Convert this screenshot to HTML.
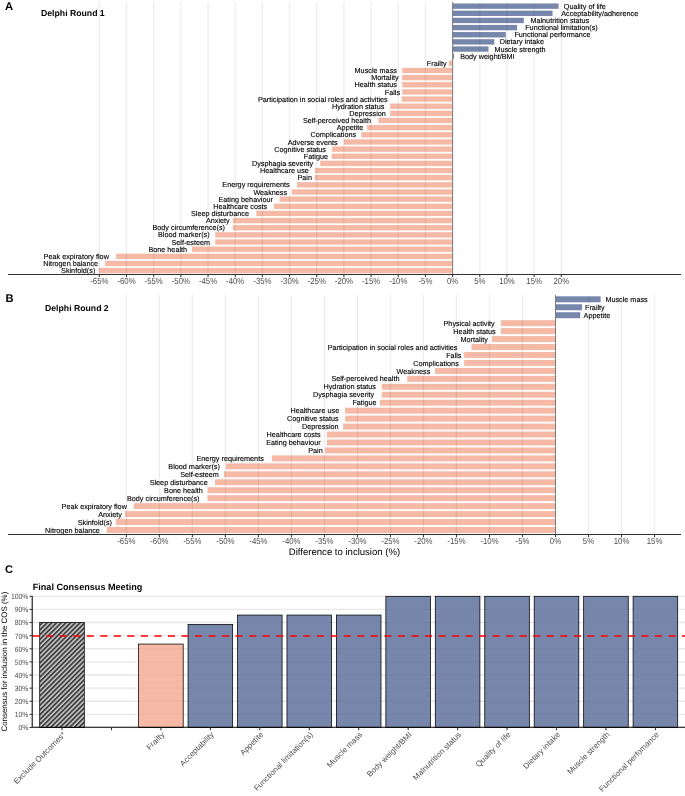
<!DOCTYPE html>
<html><head><meta charset="utf-8"><style>html,body{margin:0;padding:0;background:#fff;width:685px;height:796px;overflow:hidden}svg{display:block;will-change:transform}</style></head>
<body>
<svg width="685" height="796" viewBox="0 0 685 796">
<rect width="685" height="796" fill="#fff"/>
<style>text{font-family:"Liberation Sans",sans-serif;text-rendering:geometricPrecision}.lab{font-size:7.25px;fill:#000;stroke:#000;stroke-width:0.12px}.tick{font-size:8.8px;fill:#4d4d4d}.ttl{font-weight:bold;fill:#000}</style>
<rect x="452.6" y="3.47" width="106" height="5.37" fill="#7787AB"/>
<rect x="452.6" y="10.61" width="99.9" height="5.37" fill="#7787AB"/>
<rect x="452.6" y="17.76" width="71.2" height="5.37" fill="#7787AB"/>
<rect x="452.6" y="24.91" width="64.5" height="5.37" fill="#7787AB"/>
<rect x="452.6" y="32.06" width="53.2" height="5.37" fill="#7787AB"/>
<rect x="452.6" y="39.2" width="41.7" height="5.37" fill="#7787AB"/>
<rect x="452.6" y="46.35" width="35.9" height="5.37" fill="#7787AB"/>
<rect x="452.6" y="53.5" width="1.3" height="5.37" fill="#7787AB"/>
<rect x="448.9" y="60.65" width="3.7" height="5.37" fill="#F6B9A6"/>
<rect x="402.2" y="67.8" width="50.4" height="5.37" fill="#F6B9A6"/>
<rect x="402.2" y="74.94" width="50.4" height="5.37" fill="#F6B9A6"/>
<rect x="402.2" y="82.09" width="50.4" height="5.37" fill="#F6B9A6"/>
<rect x="402.2" y="89.24" width="50.4" height="5.37" fill="#F6B9A6"/>
<rect x="401.7" y="96.39" width="50.9" height="5.37" fill="#F6B9A6"/>
<rect x="390.2" y="103.54" width="62.4" height="5.37" fill="#F6B9A6"/>
<rect x="390.2" y="110.69" width="62.4" height="5.37" fill="#F6B9A6"/>
<rect x="378.3" y="117.83" width="74.3" height="5.37" fill="#F6B9A6"/>
<rect x="367.1" y="124.98" width="85.5" height="5.37" fill="#F6B9A6"/>
<rect x="361.3" y="132.13" width="91.3" height="5.37" fill="#F6B9A6"/>
<rect x="343.8" y="139.28" width="108.8" height="5.37" fill="#F6B9A6"/>
<rect x="332.1" y="146.42" width="120.5" height="5.37" fill="#F6B9A6"/>
<rect x="331.6" y="153.57" width="121" height="5.37" fill="#F6B9A6"/>
<rect x="320.2" y="160.72" width="132.4" height="5.37" fill="#F6B9A6"/>
<rect x="315" y="167.87" width="137.6" height="5.37" fill="#F6B9A6"/>
<rect x="314.6" y="175.02" width="138" height="5.37" fill="#F6B9A6"/>
<rect x="297.1" y="182.16" width="155.5" height="5.37" fill="#F6B9A6"/>
<rect x="291.8" y="189.31" width="160.8" height="5.37" fill="#F6B9A6"/>
<rect x="279.6" y="196.46" width="173" height="5.37" fill="#F6B9A6"/>
<rect x="273.8" y="203.61" width="178.8" height="5.37" fill="#F6B9A6"/>
<rect x="256.3" y="210.76" width="196.3" height="5.37" fill="#F6B9A6"/>
<rect x="232.9" y="217.91" width="219.7" height="5.37" fill="#F6B9A6"/>
<rect x="232.9" y="225.05" width="219.7" height="5.37" fill="#F6B9A6"/>
<rect x="215.3" y="232.2" width="237.3" height="5.37" fill="#F6B9A6"/>
<rect x="215.2" y="239.35" width="237.4" height="5.37" fill="#F6B9A6"/>
<rect x="192" y="246.5" width="260.6" height="5.37" fill="#F6B9A6"/>
<rect x="116.1" y="253.64" width="336.5" height="5.37" fill="#F6B9A6"/>
<rect x="105.1" y="260.79" width="347.5" height="5.37" fill="#F6B9A6"/>
<rect x="98.8" y="267.94" width="353.8" height="5.37" fill="#F6B9A6"/>
<line x1="99.33" y1="2" x2="99.33" y2="274.4" stroke="#000" stroke-opacity="0.07" stroke-width="1.35"/>
<line x1="126.5" y1="2" x2="126.5" y2="274.4" stroke="#000" stroke-opacity="0.07" stroke-width="1.35"/>
<line x1="153.68" y1="2" x2="153.68" y2="274.4" stroke="#000" stroke-opacity="0.07" stroke-width="1.35"/>
<line x1="180.85" y1="2" x2="180.85" y2="274.4" stroke="#000" stroke-opacity="0.07" stroke-width="1.35"/>
<line x1="208.03" y1="2" x2="208.03" y2="274.4" stroke="#000" stroke-opacity="0.07" stroke-width="1.35"/>
<line x1="235.2" y1="2" x2="235.2" y2="274.4" stroke="#000" stroke-opacity="0.07" stroke-width="1.35"/>
<line x1="262.38" y1="2" x2="262.38" y2="274.4" stroke="#000" stroke-opacity="0.07" stroke-width="1.35"/>
<line x1="289.55" y1="2" x2="289.55" y2="274.4" stroke="#000" stroke-opacity="0.07" stroke-width="1.35"/>
<line x1="316.73" y1="2" x2="316.73" y2="274.4" stroke="#000" stroke-opacity="0.07" stroke-width="1.35"/>
<line x1="343.9" y1="2" x2="343.9" y2="274.4" stroke="#000" stroke-opacity="0.07" stroke-width="1.35"/>
<line x1="371.08" y1="2" x2="371.08" y2="274.4" stroke="#000" stroke-opacity="0.07" stroke-width="1.35"/>
<line x1="398.25" y1="2" x2="398.25" y2="274.4" stroke="#000" stroke-opacity="0.07" stroke-width="1.35"/>
<line x1="425.43" y1="2" x2="425.43" y2="274.4" stroke="#000" stroke-opacity="0.07" stroke-width="1.35"/>
<line x1="452.6" y1="2" x2="452.6" y2="274.4" stroke="#000" stroke-opacity="0.07" stroke-width="1.35"/>
<line x1="479.78" y1="2" x2="479.78" y2="274.4" stroke="#000" stroke-opacity="0.07" stroke-width="1.35"/>
<line x1="506.95" y1="2" x2="506.95" y2="274.4" stroke="#000" stroke-opacity="0.07" stroke-width="1.35"/>
<line x1="534.12" y1="2" x2="534.12" y2="274.4" stroke="#000" stroke-opacity="0.07" stroke-width="1.35"/>
<line x1="561.3" y1="2" x2="561.3" y2="274.4" stroke="#000" stroke-opacity="0.07" stroke-width="1.35"/>
<line x1="452.6" y1="2" x2="452.6" y2="274.4" stroke="#6e6e6e" stroke-width="0.85"/>
<text x="563.8" y="8.75" text-anchor="start" class="lab">Quality of life</text>
<text x="561.2" y="15.9" text-anchor="start" class="lab">Acceptability/adherence</text>
<text x="530.4" y="23.05" text-anchor="start" class="lab">Malnutrition status</text>
<text x="525.2" y="30.19" text-anchor="start" class="lab">Functional limitation(s)</text>
<text x="514.4" y="37.34" text-anchor="start" class="lab">Functional performance</text>
<text x="499.7" y="44.49" text-anchor="start" class="lab">Dietary intake</text>
<text x="494.4" y="51.64" text-anchor="start" class="lab">Muscle strength</text>
<text x="460.2" y="58.79" text-anchor="start" class="lab">Body weight/BMI</text>
<text x="446.6" y="65.93" text-anchor="end" class="lab">Frailty</text>
<text x="396.9" y="73.08" text-anchor="end" class="lab">Muscle mass</text>
<text x="398.7" y="80.23" text-anchor="end" class="lab">Mortality</text>
<text x="396.9" y="87.38" text-anchor="end" class="lab">Health status</text>
<text x="400.1" y="94.53" text-anchor="end" class="lab">Falls</text>
<text x="387.7" y="101.67" text-anchor="end" class="lab">Participation in social roles and activities</text>
<text x="384.3" y="108.82" text-anchor="end" class="lab">Hydration status</text>
<text x="385.9" y="115.97" text-anchor="end" class="lab">Depression</text>
<text x="371" y="123.12" text-anchor="end" class="lab">Self-perceived health</text>
<text x="363.4" y="130.27" text-anchor="end" class="lab">Appetite</text>
<text x="356.1" y="137.41" text-anchor="end" class="lab">Complications</text>
<text x="337.7" y="144.56" text-anchor="end" class="lab">Adverse events</text>
<text x="325.9" y="151.71" text-anchor="end" class="lab">Cognitive status</text>
<text x="328" y="158.86" text-anchor="end" class="lab">Fatigue</text>
<text x="313.2" y="166.01" text-anchor="end" class="lab">Dysphagia severity</text>
<text x="308.8" y="173.15" text-anchor="end" class="lab">Healthcare use</text>
<text x="312" y="180.3" text-anchor="end" class="lab">Pain</text>
<text x="289.6" y="187.45" text-anchor="end" class="lab">Energy requirements</text>
<text x="287.1" y="194.6" text-anchor="end" class="lab">Weakness</text>
<text x="272.9" y="201.75" text-anchor="end" class="lab">Eating behaviour</text>
<text x="267.2" y="208.89" text-anchor="end" class="lab">Healthcare costs</text>
<text x="249" y="216.04" text-anchor="end" class="lab">Sleep disturbance</text>
<text x="229.7" y="223.19" text-anchor="end" class="lab">Anxiety</text>
<text x="225" y="230.34" text-anchor="end" class="lab">Body circumference(s)</text>
<text x="209.6" y="237.49" text-anchor="end" class="lab">Blood marker(s)</text>
<text x="210.1" y="244.63" text-anchor="end" class="lab">Self-esteem</text>
<text x="187.1" y="251.78" text-anchor="end" class="lab">Bone health</text>
<text x="108.9" y="258.93" text-anchor="end" class="lab">Peak expiratory flow</text>
<text x="98.1" y="266.08" text-anchor="end" class="lab">Nitrogen balance</text>
<text x="95.3" y="273.23" text-anchor="end" class="lab">Skinfold(s)</text>
<line x1="8" y1="274.4" x2="681" y2="274.4" stroke="#333" stroke-width="1.05"/>
<line x1="99.33" y1="274.4" x2="99.33" y2="277.1" stroke="#333" stroke-width="1.05"/>
<text transform="translate(99.33,284) scale(0.8864,1)" text-anchor="middle" class="tick">-65%</text>
<line x1="126.5" y1="274.4" x2="126.5" y2="277.1" stroke="#333" stroke-width="1.05"/>
<text transform="translate(126.5,284) scale(0.8864,1)" text-anchor="middle" class="tick">-60%</text>
<line x1="153.68" y1="274.4" x2="153.68" y2="277.1" stroke="#333" stroke-width="1.05"/>
<text transform="translate(153.68,284) scale(0.8864,1)" text-anchor="middle" class="tick">-55%</text>
<line x1="180.85" y1="274.4" x2="180.85" y2="277.1" stroke="#333" stroke-width="1.05"/>
<text transform="translate(180.85,284) scale(0.8864,1)" text-anchor="middle" class="tick">-50%</text>
<line x1="208.03" y1="274.4" x2="208.03" y2="277.1" stroke="#333" stroke-width="1.05"/>
<text transform="translate(208.03,284) scale(0.8864,1)" text-anchor="middle" class="tick">-45%</text>
<line x1="235.2" y1="274.4" x2="235.2" y2="277.1" stroke="#333" stroke-width="1.05"/>
<text transform="translate(235.2,284) scale(0.8864,1)" text-anchor="middle" class="tick">-40%</text>
<line x1="262.38" y1="274.4" x2="262.38" y2="277.1" stroke="#333" stroke-width="1.05"/>
<text transform="translate(262.38,284) scale(0.8864,1)" text-anchor="middle" class="tick">-35%</text>
<line x1="289.55" y1="274.4" x2="289.55" y2="277.1" stroke="#333" stroke-width="1.05"/>
<text transform="translate(289.55,284) scale(0.8864,1)" text-anchor="middle" class="tick">-30%</text>
<line x1="316.73" y1="274.4" x2="316.73" y2="277.1" stroke="#333" stroke-width="1.05"/>
<text transform="translate(316.73,284) scale(0.8864,1)" text-anchor="middle" class="tick">-25%</text>
<line x1="343.9" y1="274.4" x2="343.9" y2="277.1" stroke="#333" stroke-width="1.05"/>
<text transform="translate(343.9,284) scale(0.8864,1)" text-anchor="middle" class="tick">-20%</text>
<line x1="371.08" y1="274.4" x2="371.08" y2="277.1" stroke="#333" stroke-width="1.05"/>
<text transform="translate(371.08,284) scale(0.8864,1)" text-anchor="middle" class="tick">-15%</text>
<line x1="398.25" y1="274.4" x2="398.25" y2="277.1" stroke="#333" stroke-width="1.05"/>
<text transform="translate(398.25,284) scale(0.8864,1)" text-anchor="middle" class="tick">-10%</text>
<line x1="425.43" y1="274.4" x2="425.43" y2="277.1" stroke="#333" stroke-width="1.05"/>
<text transform="translate(425.43,284) scale(0.8864,1)" text-anchor="middle" class="tick">-5%</text>
<line x1="452.6" y1="274.4" x2="452.6" y2="277.1" stroke="#333" stroke-width="1.05"/>
<text transform="translate(452.6,284) scale(0.8864,1)" text-anchor="middle" class="tick">0%</text>
<line x1="479.78" y1="274.4" x2="479.78" y2="277.1" stroke="#333" stroke-width="1.05"/>
<text transform="translate(479.78,284) scale(0.8864,1)" text-anchor="middle" class="tick">5%</text>
<line x1="506.95" y1="274.4" x2="506.95" y2="277.1" stroke="#333" stroke-width="1.05"/>
<text transform="translate(506.95,284) scale(0.8864,1)" text-anchor="middle" class="tick">10%</text>
<line x1="534.12" y1="274.4" x2="534.12" y2="277.1" stroke="#333" stroke-width="1.05"/>
<text transform="translate(534.12,284) scale(0.8864,1)" text-anchor="middle" class="tick">15%</text>
<line x1="561.3" y1="274.4" x2="561.3" y2="277.1" stroke="#333" stroke-width="1.05"/>
<text transform="translate(561.3,284) scale(0.8864,1)" text-anchor="middle" class="tick">20%</text>
<text x="5" y="9.8" class="ttl" font-size="11.2">A</text>
<text x="41" y="16.2" class="ttl" font-size="8.7">Delphi Round 1</text>
<rect x="555.5" y="296.31" width="45.1" height="5.97" fill="#7787AB"/>
<rect x="555.5" y="304.27" width="26.5" height="5.97" fill="#7787AB"/>
<rect x="555.5" y="312.23" width="24.7" height="5.97" fill="#7787AB"/>
<rect x="500.8" y="320.18" width="54.7" height="5.97" fill="#F6B9A6"/>
<rect x="500.8" y="328.13" width="54.7" height="5.97" fill="#F6B9A6"/>
<rect x="491.9" y="336.09" width="63.6" height="5.97" fill="#F6B9A6"/>
<rect x="471.5" y="344.05" width="84" height="5.97" fill="#F6B9A6"/>
<rect x="464.2" y="352" width="91.3" height="5.97" fill="#F6B9A6"/>
<rect x="464.2" y="359.95" width="91.3" height="5.97" fill="#F6B9A6"/>
<rect x="435" y="367.91" width="120.5" height="5.97" fill="#F6B9A6"/>
<rect x="407.2" y="375.87" width="148.3" height="5.97" fill="#F6B9A6"/>
<rect x="381.7" y="383.82" width="173.8" height="5.97" fill="#F6B9A6"/>
<rect x="381.7" y="391.77" width="173.8" height="5.97" fill="#F6B9A6"/>
<rect x="380" y="399.73" width="175.5" height="5.97" fill="#F6B9A6"/>
<rect x="345.1" y="407.69" width="210.4" height="5.97" fill="#F6B9A6"/>
<rect x="345.1" y="415.64" width="210.4" height="5.97" fill="#F6B9A6"/>
<rect x="343.2" y="423.6" width="212.3" height="5.97" fill="#F6B9A6"/>
<rect x="326.9" y="431.55" width="228.6" height="5.97" fill="#F6B9A6"/>
<rect x="326.9" y="439.5" width="228.6" height="5.97" fill="#F6B9A6"/>
<rect x="325.1" y="447.46" width="230.4" height="5.97" fill="#F6B9A6"/>
<rect x="271.8" y="455.41" width="283.7" height="5.97" fill="#F6B9A6"/>
<rect x="225.9" y="463.37" width="329.6" height="5.97" fill="#F6B9A6"/>
<rect x="224.1" y="471.32" width="331.4" height="5.97" fill="#F6B9A6"/>
<rect x="215" y="479.28" width="340.5" height="5.97" fill="#F6B9A6"/>
<rect x="207.5" y="487.24" width="348" height="5.97" fill="#F6B9A6"/>
<rect x="207.5" y="495.19" width="348" height="5.97" fill="#F6B9A6"/>
<rect x="133.8" y="503.14" width="421.7" height="5.97" fill="#F6B9A6"/>
<rect x="125.1" y="511.1" width="430.4" height="5.97" fill="#F6B9A6"/>
<rect x="115.9" y="519.05" width="439.6" height="5.97" fill="#F6B9A6"/>
<rect x="106.8" y="527.01" width="448.7" height="5.97" fill="#F6B9A6"/>
<line x1="126.34" y1="295" x2="126.34" y2="534.5" stroke="#000" stroke-opacity="0.07" stroke-width="1.35"/>
<line x1="159.35" y1="295" x2="159.35" y2="534.5" stroke="#000" stroke-opacity="0.07" stroke-width="1.35"/>
<line x1="192.36" y1="295" x2="192.36" y2="534.5" stroke="#000" stroke-opacity="0.07" stroke-width="1.35"/>
<line x1="225.38" y1="295" x2="225.38" y2="534.5" stroke="#000" stroke-opacity="0.07" stroke-width="1.35"/>
<line x1="258.39" y1="295" x2="258.39" y2="534.5" stroke="#000" stroke-opacity="0.07" stroke-width="1.35"/>
<line x1="291.4" y1="295" x2="291.4" y2="534.5" stroke="#000" stroke-opacity="0.07" stroke-width="1.35"/>
<line x1="324.41" y1="295" x2="324.41" y2="534.5" stroke="#000" stroke-opacity="0.07" stroke-width="1.35"/>
<line x1="357.43" y1="295" x2="357.43" y2="534.5" stroke="#000" stroke-opacity="0.07" stroke-width="1.35"/>
<line x1="390.44" y1="295" x2="390.44" y2="534.5" stroke="#000" stroke-opacity="0.07" stroke-width="1.35"/>
<line x1="423.45" y1="295" x2="423.45" y2="534.5" stroke="#000" stroke-opacity="0.07" stroke-width="1.35"/>
<line x1="456.46" y1="295" x2="456.46" y2="534.5" stroke="#000" stroke-opacity="0.07" stroke-width="1.35"/>
<line x1="489.48" y1="295" x2="489.48" y2="534.5" stroke="#000" stroke-opacity="0.07" stroke-width="1.35"/>
<line x1="522.49" y1="295" x2="522.49" y2="534.5" stroke="#000" stroke-opacity="0.07" stroke-width="1.35"/>
<line x1="555.5" y1="295" x2="555.5" y2="534.5" stroke="#000" stroke-opacity="0.07" stroke-width="1.35"/>
<line x1="588.51" y1="295" x2="588.51" y2="534.5" stroke="#000" stroke-opacity="0.07" stroke-width="1.35"/>
<line x1="621.52" y1="295" x2="621.52" y2="534.5" stroke="#000" stroke-opacity="0.07" stroke-width="1.35"/>
<line x1="654.54" y1="295" x2="654.54" y2="534.5" stroke="#000" stroke-opacity="0.07" stroke-width="1.35"/>
<line x1="555.5" y1="295" x2="555.5" y2="534.5" stroke="#6e6e6e" stroke-width="0.85"/>
<text x="605.4" y="301.9" text-anchor="start" class="lab">Muscle mass</text>
<text x="585" y="309.86" text-anchor="start" class="lab">Frailty</text>
<text x="583.6" y="317.81" text-anchor="start" class="lab">Appetite</text>
<text x="494.7" y="325.77" text-anchor="end" class="lab">Physical activity</text>
<text x="495.7" y="333.72" text-anchor="end" class="lab">Health status</text>
<text x="487.8" y="341.68" text-anchor="end" class="lab">Mortality</text>
<text x="457.5" y="349.63" text-anchor="end" class="lab">Participation in social roles and activities</text>
<text x="461.5" y="357.59" text-anchor="end" class="lab">Falls</text>
<text x="458.8" y="365.54" text-anchor="end" class="lab">Complications</text>
<text x="430.3" y="373.5" text-anchor="end" class="lab">Weakness</text>
<text x="399.5" y="381.45" text-anchor="end" class="lab">Self-perceived health</text>
<text x="375.9" y="389.41" text-anchor="end" class="lab">Hydration status</text>
<text x="374.2" y="397.36" text-anchor="end" class="lab">Dysphagia severity</text>
<text x="376.6" y="405.32" text-anchor="end" class="lab">Fatigue</text>
<text x="339.2" y="413.27" text-anchor="end" class="lab">Healthcare use</text>
<text x="338.7" y="421.23" text-anchor="end" class="lab">Cognitive status</text>
<text x="338.6" y="429.18" text-anchor="end" class="lab">Depression</text>
<text x="320.6" y="437.14" text-anchor="end" class="lab">Healthcare costs</text>
<text x="320.6" y="445.09" text-anchor="end" class="lab">Eating behaviour</text>
<text x="322.7" y="453.05" text-anchor="end" class="lab">Pain</text>
<text x="263.8" y="461" text-anchor="end" class="lab">Energy requirements</text>
<text x="219.9" y="468.96" text-anchor="end" class="lab">Blood marker(s)</text>
<text x="218.9" y="476.91" text-anchor="end" class="lab">Self-esteem</text>
<text x="207.7" y="484.87" text-anchor="end" class="lab">Sleep disturbance</text>
<text x="202.8" y="492.82" text-anchor="end" class="lab">Bone health</text>
<text x="199.5" y="500.78" text-anchor="end" class="lab">Body circumference(s)</text>
<text x="126.9" y="508.73" text-anchor="end" class="lab">Peak expiratory flow</text>
<text x="122" y="516.69" text-anchor="end" class="lab">Anxiety</text>
<text x="112" y="524.64" text-anchor="end" class="lab">Skinfold(s)</text>
<text x="99.9" y="532.6" text-anchor="end" class="lab">Nitrogen balance</text>
<line x1="8" y1="534.5" x2="681" y2="534.5" stroke="#333" stroke-width="1.05"/>
<line x1="126.34" y1="534.5" x2="126.34" y2="537.2" stroke="#333" stroke-width="1.05"/>
<text transform="translate(126.34,544.4) scale(0.8864,1)" text-anchor="middle" class="tick">-65%</text>
<line x1="159.35" y1="534.5" x2="159.35" y2="537.2" stroke="#333" stroke-width="1.05"/>
<text transform="translate(159.35,544.4) scale(0.8864,1)" text-anchor="middle" class="tick">-60%</text>
<line x1="192.36" y1="534.5" x2="192.36" y2="537.2" stroke="#333" stroke-width="1.05"/>
<text transform="translate(192.36,544.4) scale(0.8864,1)" text-anchor="middle" class="tick">-55%</text>
<line x1="225.38" y1="534.5" x2="225.38" y2="537.2" stroke="#333" stroke-width="1.05"/>
<text transform="translate(225.38,544.4) scale(0.8864,1)" text-anchor="middle" class="tick">-50%</text>
<line x1="258.39" y1="534.5" x2="258.39" y2="537.2" stroke="#333" stroke-width="1.05"/>
<text transform="translate(258.39,544.4) scale(0.8864,1)" text-anchor="middle" class="tick">-45%</text>
<line x1="291.4" y1="534.5" x2="291.4" y2="537.2" stroke="#333" stroke-width="1.05"/>
<text transform="translate(291.4,544.4) scale(0.8864,1)" text-anchor="middle" class="tick">-40%</text>
<line x1="324.41" y1="534.5" x2="324.41" y2="537.2" stroke="#333" stroke-width="1.05"/>
<text transform="translate(324.41,544.4) scale(0.8864,1)" text-anchor="middle" class="tick">-35%</text>
<line x1="357.43" y1="534.5" x2="357.43" y2="537.2" stroke="#333" stroke-width="1.05"/>
<text transform="translate(357.43,544.4) scale(0.8864,1)" text-anchor="middle" class="tick">-30%</text>
<line x1="390.44" y1="534.5" x2="390.44" y2="537.2" stroke="#333" stroke-width="1.05"/>
<text transform="translate(390.44,544.4) scale(0.8864,1)" text-anchor="middle" class="tick">-25%</text>
<line x1="423.45" y1="534.5" x2="423.45" y2="537.2" stroke="#333" stroke-width="1.05"/>
<text transform="translate(423.45,544.4) scale(0.8864,1)" text-anchor="middle" class="tick">-20%</text>
<line x1="456.46" y1="534.5" x2="456.46" y2="537.2" stroke="#333" stroke-width="1.05"/>
<text transform="translate(456.46,544.4) scale(0.8864,1)" text-anchor="middle" class="tick">-15%</text>
<line x1="489.48" y1="534.5" x2="489.48" y2="537.2" stroke="#333" stroke-width="1.05"/>
<text transform="translate(489.48,544.4) scale(0.8864,1)" text-anchor="middle" class="tick">-10%</text>
<line x1="522.49" y1="534.5" x2="522.49" y2="537.2" stroke="#333" stroke-width="1.05"/>
<text transform="translate(522.49,544.4) scale(0.8864,1)" text-anchor="middle" class="tick">-5%</text>
<line x1="555.5" y1="534.5" x2="555.5" y2="537.2" stroke="#333" stroke-width="1.05"/>
<text transform="translate(555.5,544.4) scale(0.8864,1)" text-anchor="middle" class="tick">0%</text>
<line x1="588.51" y1="534.5" x2="588.51" y2="537.2" stroke="#333" stroke-width="1.05"/>
<text transform="translate(588.51,544.4) scale(0.8864,1)" text-anchor="middle" class="tick">5%</text>
<line x1="621.52" y1="534.5" x2="621.52" y2="537.2" stroke="#333" stroke-width="1.05"/>
<text transform="translate(621.52,544.4) scale(0.8864,1)" text-anchor="middle" class="tick">10%</text>
<line x1="654.54" y1="534.5" x2="654.54" y2="537.2" stroke="#333" stroke-width="1.05"/>
<text transform="translate(654.54,544.4) scale(0.8864,1)" text-anchor="middle" class="tick">15%</text>
<text x="5.6" y="302" class="ttl" font-size="11.2">B</text>
<text x="45" y="310.8" class="ttl" font-size="8.7">Delphi Round 2</text>
<text x="344.5" y="554.8" text-anchor="middle" font-size="9.55" fill="#000">Difference to inclusion (%)</text>
<text x="5" y="572.8" class="ttl" font-size="11.2">C</text>
<text x="32.7" y="589.8" class="ttl" font-size="9.1">Final Consensus Meeting</text>
<defs><pattern id="hatch" patternUnits="userSpaceOnUse" width="3.33" height="3.33" patternTransform="rotate(45)"><rect width="3.33" height="3.33" fill="#bdbdbd"/><rect width="1.5" height="3.33" fill="#333"/></pattern></defs>
<line x1="32.2" y1="727.5" x2="685" y2="727.5" stroke="#EDEDED" stroke-width="1.35"/>
<line x1="32.2" y1="714.38" x2="685" y2="714.38" stroke="#EDEDED" stroke-width="1.35"/>
<line x1="32.2" y1="701.26" x2="685" y2="701.26" stroke="#EDEDED" stroke-width="1.35"/>
<line x1="32.2" y1="688.14" x2="685" y2="688.14" stroke="#EDEDED" stroke-width="1.35"/>
<line x1="32.2" y1="675.02" x2="685" y2="675.02" stroke="#EDEDED" stroke-width="1.35"/>
<line x1="32.2" y1="661.9" x2="685" y2="661.9" stroke="#EDEDED" stroke-width="1.35"/>
<line x1="32.2" y1="648.78" x2="685" y2="648.78" stroke="#EDEDED" stroke-width="1.35"/>
<line x1="32.2" y1="635.66" x2="685" y2="635.66" stroke="#EDEDED" stroke-width="1.35"/>
<line x1="32.2" y1="622.54" x2="685" y2="622.54" stroke="#EDEDED" stroke-width="1.35"/>
<line x1="32.2" y1="609.42" x2="685" y2="609.42" stroke="#EDEDED" stroke-width="1.35"/>
<line x1="32.2" y1="596.3" x2="685" y2="596.3" stroke="#EDEDED" stroke-width="1.35"/>
<rect x="39.7" y="622.54" width="44.6" height="104.96" fill="url(#hatch)" stroke="#000" stroke-width="0.75"/>
<rect x="138.6" y="644.06" width="44.6" height="83.44" fill="#F6B9A6" stroke="#000" stroke-width="0.75"/>
<rect x="188.05" y="624.38" width="44.6" height="103.12" fill="#7787AB" stroke="#000" stroke-width="0.75"/>
<rect x="237.5" y="615.06" width="44.6" height="112.44" fill="#7787AB" stroke="#000" stroke-width="0.75"/>
<rect x="286.95" y="615.06" width="44.6" height="112.44" fill="#7787AB" stroke="#000" stroke-width="0.75"/>
<rect x="336.4" y="615.06" width="44.6" height="112.44" fill="#7787AB" stroke="#000" stroke-width="0.75"/>
<rect x="385.85" y="596.3" width="44.6" height="131.2" fill="#7787AB" stroke="#000" stroke-width="0.75"/>
<rect x="435.3" y="596.3" width="44.6" height="131.2" fill="#7787AB" stroke="#000" stroke-width="0.75"/>
<rect x="484.75" y="596.3" width="44.6" height="131.2" fill="#7787AB" stroke="#000" stroke-width="0.75"/>
<rect x="534.2" y="596.3" width="44.6" height="131.2" fill="#7787AB" stroke="#000" stroke-width="0.75"/>
<rect x="583.65" y="596.3" width="44.6" height="131.2" fill="#7787AB" stroke="#000" stroke-width="0.75"/>
<rect x="633.1" y="596.3" width="44.6" height="131.2" fill="#7787AB" stroke="#000" stroke-width="0.75"/>
<line x1="32.2" y1="714.38" x2="685" y2="714.38" stroke="#000" stroke-opacity="0.025" stroke-width="1.35"/>
<line x1="32.2" y1="701.26" x2="685" y2="701.26" stroke="#000" stroke-opacity="0.025" stroke-width="1.35"/>
<line x1="32.2" y1="688.14" x2="685" y2="688.14" stroke="#000" stroke-opacity="0.025" stroke-width="1.35"/>
<line x1="32.2" y1="675.02" x2="685" y2="675.02" stroke="#000" stroke-opacity="0.025" stroke-width="1.35"/>
<line x1="32.2" y1="661.9" x2="685" y2="661.9" stroke="#000" stroke-opacity="0.025" stroke-width="1.35"/>
<line x1="32.2" y1="648.78" x2="685" y2="648.78" stroke="#000" stroke-opacity="0.025" stroke-width="1.35"/>
<line x1="32.2" y1="635.66" x2="685" y2="635.66" stroke="#000" stroke-opacity="0.025" stroke-width="1.35"/>
<line x1="32.2" y1="622.54" x2="685" y2="622.54" stroke="#000" stroke-opacity="0.025" stroke-width="1.35"/>
<line x1="32.2" y1="609.42" x2="685" y2="609.42" stroke="#000" stroke-opacity="0.025" stroke-width="1.35"/>
<line x1="32.2" y1="596.3" x2="685" y2="596.3" stroke="#000" stroke-opacity="0.025" stroke-width="1.35"/>
<line x1="32.6" y1="636" x2="685" y2="636" stroke="#ff0000" stroke-width="1.7" stroke-dasharray="7.1 6.43"/>
<line x1="32.2" y1="596" x2="32.2" y2="727.3" stroke="#000" stroke-width="1.05"/>
<line x1="32.2" y1="727.3" x2="685" y2="727.3" stroke="#000" stroke-width="1.05"/>
<line x1="29.5" y1="727.5" x2="32.2" y2="727.5" stroke="#333" stroke-width="1.05"/>
<text transform="translate(28.3,730.4) scale(0.895,1)" text-anchor="end" font-size="7.6" fill="#4d4d4d">0%</text>
<line x1="29.5" y1="714.38" x2="32.2" y2="714.38" stroke="#333" stroke-width="1.05"/>
<text transform="translate(28.3,717.28) scale(0.895,1)" text-anchor="end" font-size="7.6" fill="#4d4d4d">10%</text>
<line x1="29.5" y1="701.26" x2="32.2" y2="701.26" stroke="#333" stroke-width="1.05"/>
<text transform="translate(28.3,704.16) scale(0.895,1)" text-anchor="end" font-size="7.6" fill="#4d4d4d">20%</text>
<line x1="29.5" y1="688.14" x2="32.2" y2="688.14" stroke="#333" stroke-width="1.05"/>
<text transform="translate(28.3,691.04) scale(0.895,1)" text-anchor="end" font-size="7.6" fill="#4d4d4d">30%</text>
<line x1="29.5" y1="675.02" x2="32.2" y2="675.02" stroke="#333" stroke-width="1.05"/>
<text transform="translate(28.3,677.92) scale(0.895,1)" text-anchor="end" font-size="7.6" fill="#4d4d4d">40%</text>
<line x1="29.5" y1="661.9" x2="32.2" y2="661.9" stroke="#333" stroke-width="1.05"/>
<text transform="translate(28.3,664.8) scale(0.895,1)" text-anchor="end" font-size="7.6" fill="#4d4d4d">50%</text>
<line x1="29.5" y1="648.78" x2="32.2" y2="648.78" stroke="#333" stroke-width="1.05"/>
<text transform="translate(28.3,651.68) scale(0.895,1)" text-anchor="end" font-size="7.6" fill="#4d4d4d">60%</text>
<line x1="29.5" y1="635.66" x2="32.2" y2="635.66" stroke="#333" stroke-width="1.05"/>
<text transform="translate(28.3,638.56) scale(0.895,1)" text-anchor="end" font-size="7.6" fill="#4d4d4d">70%</text>
<line x1="29.5" y1="622.54" x2="32.2" y2="622.54" stroke="#333" stroke-width="1.05"/>
<text transform="translate(28.3,625.44) scale(0.895,1)" text-anchor="end" font-size="7.6" fill="#4d4d4d">80%</text>
<line x1="29.5" y1="609.42" x2="32.2" y2="609.42" stroke="#333" stroke-width="1.05"/>
<text transform="translate(28.3,612.32) scale(0.895,1)" text-anchor="end" font-size="7.6" fill="#4d4d4d">90%</text>
<line x1="29.5" y1="596.3" x2="32.2" y2="596.3" stroke="#333" stroke-width="1.05"/>
<text transform="translate(28.3,599.2) scale(0.895,1)" text-anchor="end" font-size="7.6" fill="#4d4d4d">100%</text>
<line x1="62" y1="727.5" x2="62" y2="730.2" stroke="#333" stroke-width="1.05"/>
<text transform="translate(62.1,731.2) rotate(-45)" text-anchor="end" dominant-baseline="hanging" font-size="7.95" fill="#4d4d4d">Exclude Outcomes*</text>
<line x1="111.45" y1="727.5" x2="111.45" y2="730.2" stroke="#333" stroke-width="1.05"/>
<line x1="160.9" y1="727.5" x2="160.9" y2="730.2" stroke="#333" stroke-width="1.05"/>
<text transform="translate(161,731.2) rotate(-45)" text-anchor="end" dominant-baseline="hanging" font-size="7.95" fill="#4d4d4d">Frailty</text>
<line x1="210.35" y1="727.5" x2="210.35" y2="730.2" stroke="#333" stroke-width="1.05"/>
<text transform="translate(210.45,731.2) rotate(-45)" text-anchor="end" dominant-baseline="hanging" font-size="7.95" fill="#4d4d4d">Acceptability</text>
<line x1="259.8" y1="727.5" x2="259.8" y2="730.2" stroke="#333" stroke-width="1.05"/>
<text transform="translate(259.9,731.2) rotate(-45)" text-anchor="end" dominant-baseline="hanging" font-size="7.95" fill="#4d4d4d">Appetite</text>
<line x1="309.25" y1="727.5" x2="309.25" y2="730.2" stroke="#333" stroke-width="1.05"/>
<text transform="translate(309.35,731.2) rotate(-45)" text-anchor="end" dominant-baseline="hanging" font-size="7.95" fill="#4d4d4d">Functional limitation(s)</text>
<line x1="358.7" y1="727.5" x2="358.7" y2="730.2" stroke="#333" stroke-width="1.05"/>
<text transform="translate(358.8,731.2) rotate(-45)" text-anchor="end" dominant-baseline="hanging" font-size="7.95" fill="#4d4d4d">Muscle mass</text>
<line x1="408.15" y1="727.5" x2="408.15" y2="730.2" stroke="#333" stroke-width="1.05"/>
<text transform="translate(408.25,731.2) rotate(-45)" text-anchor="end" dominant-baseline="hanging" font-size="7.95" fill="#4d4d4d">Body weight/BMI</text>
<line x1="457.6" y1="727.5" x2="457.6" y2="730.2" stroke="#333" stroke-width="1.05"/>
<text transform="translate(457.7,731.2) rotate(-45)" text-anchor="end" dominant-baseline="hanging" font-size="7.95" fill="#4d4d4d">Malnutrition status</text>
<line x1="507.05" y1="727.5" x2="507.05" y2="730.2" stroke="#333" stroke-width="1.05"/>
<text transform="translate(507.15,731.2) rotate(-45)" text-anchor="end" dominant-baseline="hanging" font-size="7.95" fill="#4d4d4d">Quality of life</text>
<line x1="556.5" y1="727.5" x2="556.5" y2="730.2" stroke="#333" stroke-width="1.05"/>
<text transform="translate(556.6,731.2) rotate(-45)" text-anchor="end" dominant-baseline="hanging" font-size="7.95" fill="#4d4d4d">Dietary intake</text>
<line x1="605.95" y1="727.5" x2="605.95" y2="730.2" stroke="#333" stroke-width="1.05"/>
<text transform="translate(606.05,731.2) rotate(-45)" text-anchor="end" dominant-baseline="hanging" font-size="7.95" fill="#4d4d4d">Muscle strength</text>
<line x1="655.4" y1="727.5" x2="655.4" y2="730.2" stroke="#333" stroke-width="1.05"/>
<text transform="translate(655.5,731.2) rotate(-45)" text-anchor="end" dominant-baseline="hanging" font-size="7.95" fill="#4d4d4d">Functional perfomance</text>
<text transform="translate(7.0,661.65) rotate(-90)" text-anchor="middle" font-size="7.95" fill="#000">Consensus for inclusion in the COS (%)</text>
</svg>
</body></html>
